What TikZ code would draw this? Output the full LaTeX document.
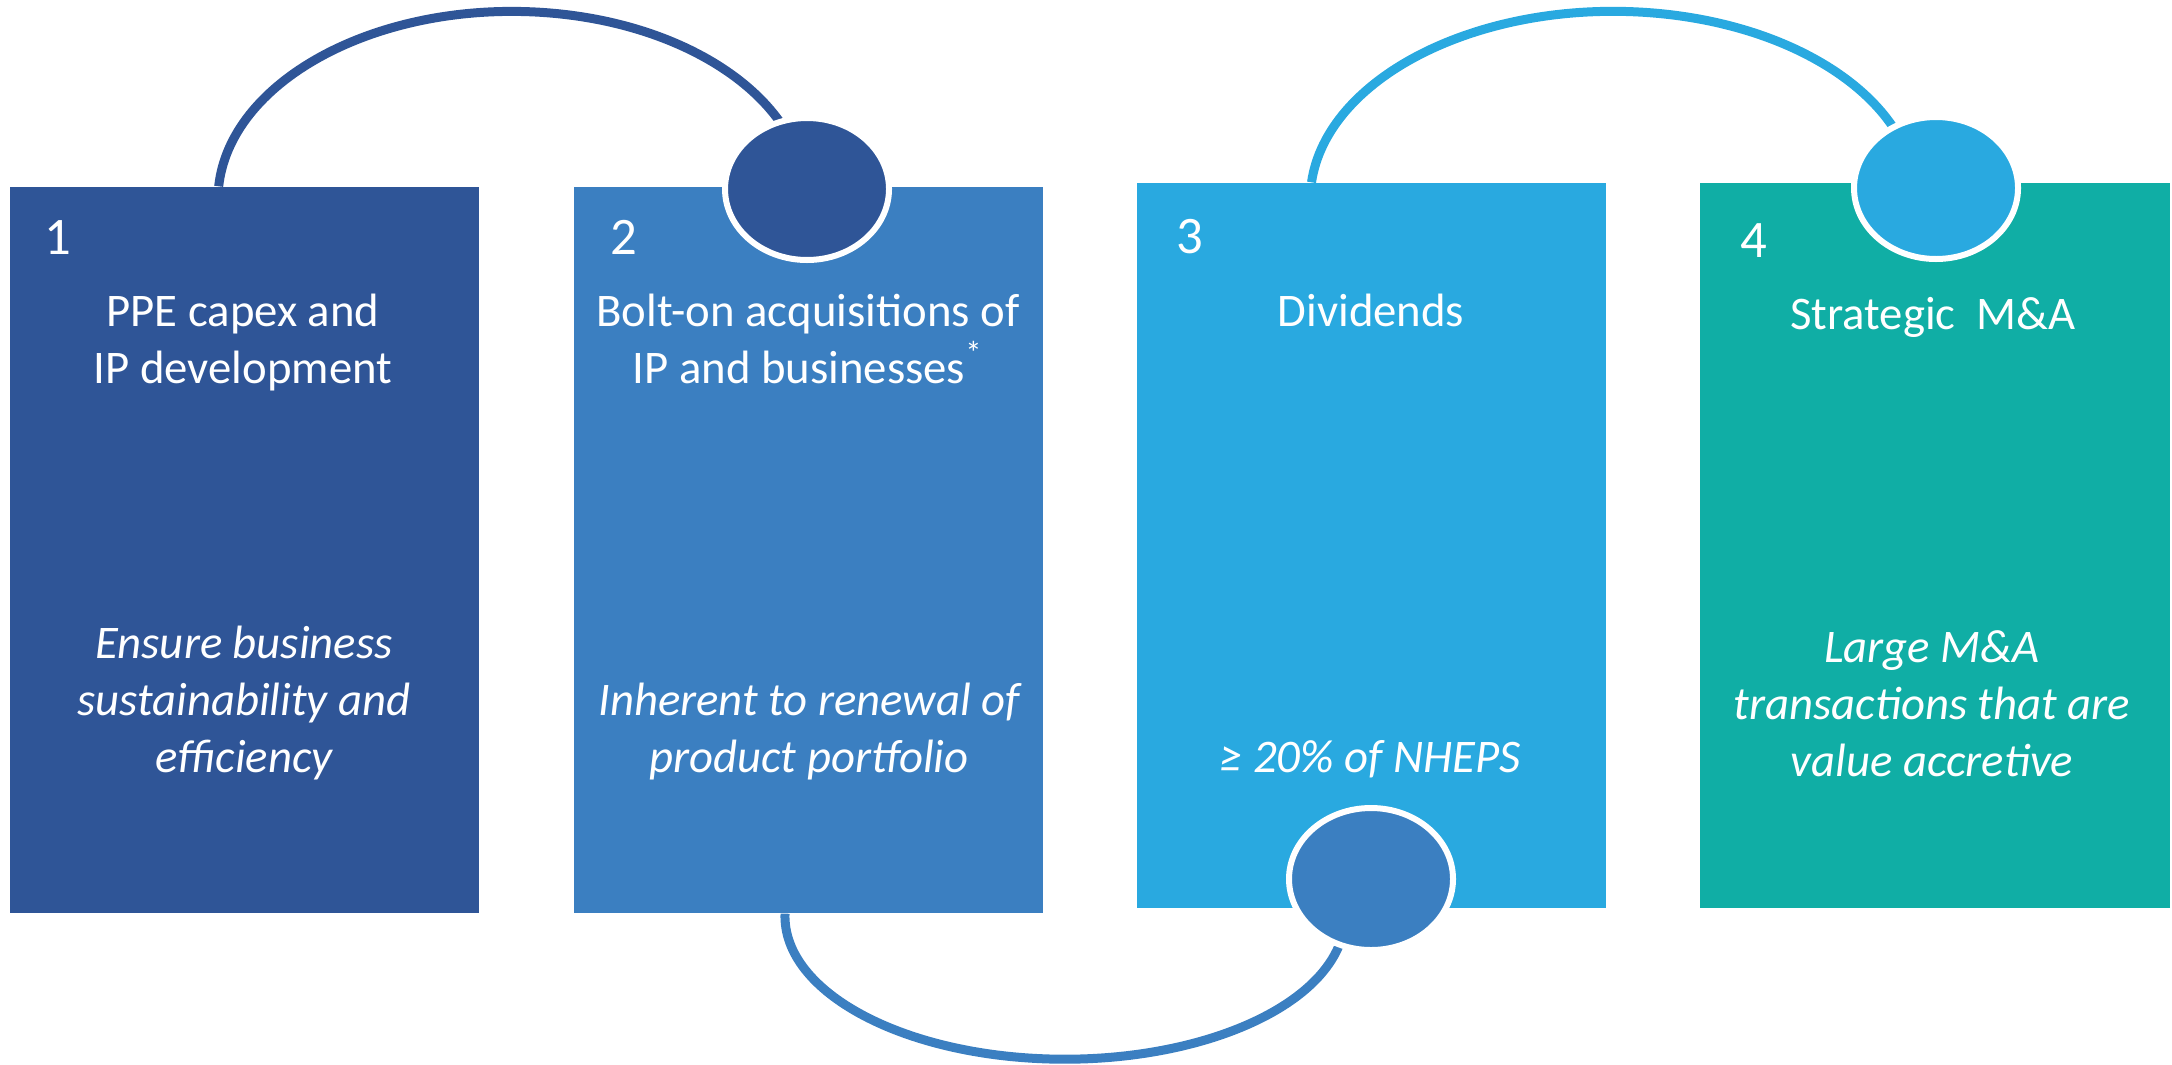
\documentclass[tikz,border=0pt]{standalone}
\usepackage{fontspec}
\setmainfont{Carlito}
\usetikzlibrary{shapes.geometric}
\definecolor{navy}{HTML}{2F5597}
\definecolor{midblue}{HTML}{3B7FC1}
\definecolor{skyblue}{HTML}{29A9E0}
\definecolor{tealgreen}{HTML}{10AEA5}
\begin{document}
\begin{tikzpicture}[
        stage/.style={rectangle, inner sep=0pt, minimum width=4.69cm, minimum height=7.26cm},
        knob/.style={ellipse, draw=white, line width=0.6mm, inner sep=0pt, minimum width=1.64cm, minimum height=1.42cm},
        link/.style={line width=0.9mm},
        num/.style={anchor=base, text=white, inner sep=0pt, font=\fontsize{15}{18}\selectfont},
        head/.style={anchor=base, text=white, inner sep=0pt, align=center, font=\fontsize{13.3}{16.2}\selectfont},
        note/.style={head, font=\fontsize{13.3}{16.2}\selectfont\itshape}]
            \useasboundingbox (0,0) rectangle (21.72,10.64);

            \node (b1) at (2.445, 5.14) [stage, fill=navy] {};
            \node (b2) at (8.08, 5.14) [stage, fill=midblue] {};
            \node (b3) at (13.715, 5.185) [stage, minimum height=7.25cm, fill=skyblue] {};
            \node (b4) at (19.35, 5.185) [stage, minimum width=4.70cm, minimum height=7.25cm, fill=tealgreen] {};

            \draw[link, navy] ([xshift=-2.58mm]b1.north) arc[start angle=176, end angle=0, x radius=2.94cm, y radius=1.88cm];
            \draw[link, skyblue] ([xshift=-6mm]b3.north) arc[start angle=174.8, end angle=0, x radius=3.03cm, y radius=1.88cm];
            \draw[link, midblue] ([xshift=-2.3mm]b2.south) arc[start angle=179, end angle=360, x radius=2.80cm, y radius=1.43cm];

            \node (k1) at (8.07, 8.75) [knob, fill=navy] {};
            \node (k2) at (19.36, 8.76) [knob, fill=skyblue] {};
            \node (k3) at (13.71, 1.85) [knob, fill=midblue] {};

            \node (n1) at (0.575, 8.10) [num] {1};
            \node (n2) at (6.235, 8.10) [num] {2};
            \node (n3) at (11.90, 8.11) [num] {3};
            \node (n4) at (17.54, 8.07) [num] {4};

            \node (h1) at (2.43, 6.81) [head] {PPE capex and\\IP development};
            \node (h2) at (8.08, 6.81) [head] {Bolt-on acquisitions of\\IP and businesses\textsuperscript{*}};
            \node (h3) at (13.71, 7.38) [head] {Dividends};
            \node (h4) at (19.33, 7.35) [head] {Strategic\ \ M\&A};

            \node (d1) at (2.44, 2.92) [note] {Ensure business\\sustainability and\\efficiency};
            \node (d2) at (8.09, 2.92) [note] {Inherent to renewal of\\product portfolio};
            \node (d3) at (13.70, 2.92) [note] {≥ 20\% of NHEPS};
            \node (d4) at (19.32, 2.88) [note] {Large M\&A\\transactions that are\\value accretive};
        \end{tikzpicture}
\end{document}
